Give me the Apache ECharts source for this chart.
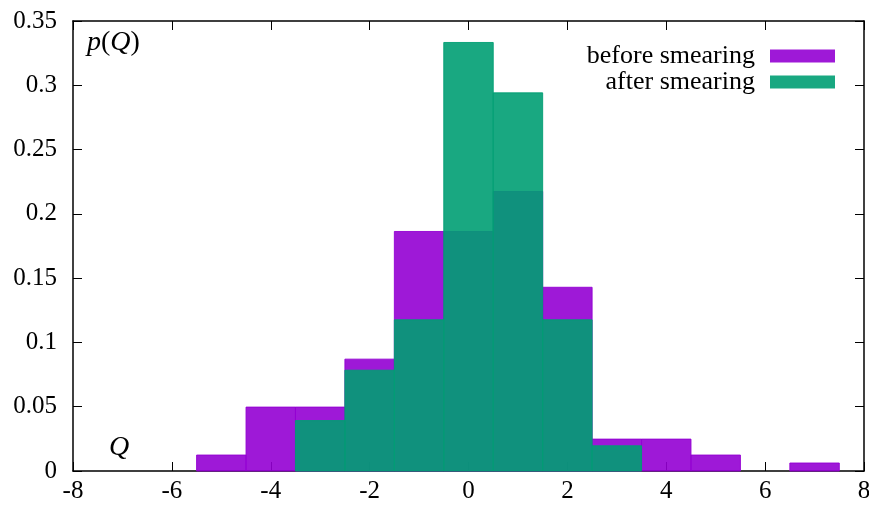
<!DOCTYPE html>
<html>
<head>
<meta charset="utf-8">
<script src="https://cdn.jsdelivr.net/npm/echarts@6/dist/echarts.min.js"></script>
<style>
  html, body { margin: 0; padding: 0; background: #fff; }
  #chart { width: 869px; height: 510px; }
</style>
</head>
<body>
<div id="chart"></div>
<script>
// Histogram of topological charge Q, bins of width 1 centred on integers
const binCenters = [-5, -4, -3, -2, -1, 0, 1, 2, 3, 4, 5, 6, 7];
const beforeSmearing = [0.0124, 0.0497, 0.0497, 0.0870, 0.1863, 0.1863, 0.2174, 0.1429, 0.0248, 0.0248, 0.0124, 0, 0.0062];
const afterSmearing  = [0, 0, 0.0392, 0.0784, 0.1176, 0.3333, 0.2941, 0.1176, 0.0196, 0, 0, 0, 0];
const seriesNames = ['before smearing', 'after smearing'];
const xTicks = { min: -8, max: 8, step: 2 };
const yTicks = { min: 0, max: 0.35, step: 0.05 };

const FONT = '"Liberation Serif", "DejaVu Serif", serif';
const PURPLE = 'rgba(148,0,211,0.9)';
const GREEN = 'rgba(0,158,115,0.9)';

function toPairs(vals) {
  return binCenters.map((c, i) => [c, vals[i]]);
}

function renderBin(params, api) {
  const x = api.value(0);
  const y = api.value(1);
  if (!y) return null;
  const tl = api.coord([x - 0.5, y]);
  const br = api.coord([x + 0.5, 0]);
  const color = api.visual('color');
  return {
    type: 'rect',
    shape: { x: tl[0], y: tl[1], width: br[0] - tl[0], height: br[1] - tl[1] },
    style: { fill: color, stroke: color, lineWidth: 1 }
  };
}

const axisLine = { show: true, onZero: false, lineStyle: { color: '#000', width: 1.5 } };
const tick = { show: true, inside: true, length: 9, lineStyle: { color: '#000', width: 1 } };
const label = { fontFamily: FONT, fontSize: 25, color: '#000' };

const chart = echarts.init(document.getElementById('chart'), null, { renderer: 'canvas' });
chart.setOption({
  animation: false,
  backgroundColor: '#fff',
  grid: { left: 73, right: 5, top: 21, bottom: 39, containLabel: false, outerBoundsMode: 'none' },
  legend: {
    orient: 'vertical',
    right: 29,
    top: 38,
    align: 'right',
    itemWidth: 65,
    itemHeight: 13,
    itemGap: 0,
    icon: 'rect',
    textStyle: { fontFamily: FONT, fontSize: 26, lineHeight: 25, color: '#000', padding: [0, 10, 0, 0] },
    data: seriesNames
  },
  xAxis: [
    {
      type: 'value', position: 'bottom',
      min: xTicks.min, max: xTicks.max, interval: xTicks.step,
      axisLine: axisLine, axisTick: tick,
      axisLabel: Object.assign({ margin: 8 }, label),
      splitLine: { show: false }
    },
    {
      type: 'value', position: 'top',
      min: xTicks.min, max: xTicks.max, interval: xTicks.step,
      axisLine: axisLine, axisTick: tick,
      axisLabel: { show: false },
      splitLine: { show: false }
    }
  ],
  yAxis: [
    {
      type: 'value', position: 'left',
      min: yTicks.min, max: yTicks.max, interval: yTicks.step,
      axisLine: axisLine, axisTick: tick,
      axisLabel: Object.assign({ margin: 16 }, label),
      splitLine: { show: false }
    },
    {
      type: 'value', position: 'right',
      min: yTicks.min, max: yTicks.max, interval: yTicks.step,
      axisLine: axisLine, axisTick: tick,
      axisLabel: { show: false },
      splitLine: { show: false }
    }
  ],
  series: [
    {
      name: seriesNames[0], type: 'custom', renderItem: renderBin,
      xAxisIndex: 0, yAxisIndex: 0,
      itemStyle: { color: PURPLE },
      encode: { x: 0, y: 1 },
      data: toPairs(beforeSmearing)
    },
    {
      name: seriesNames[1], type: 'custom', renderItem: renderBin,
      xAxisIndex: 0, yAxisIndex: 0,
      itemStyle: { color: GREEN },
      encode: { x: 0, y: 1 },
      data: toPairs(afterSmearing)
    }
  ],
  graphic: [
    {
      // axis title: italic symbols, upright parentheses
      type: 'text', left: 87, top: 29,
      style: {
        text: '{i|p}{u|(}{i|Q}{u|)}',
        fontFamily: FONT, fontSize: 28, fill: '#000',
        rich: {
          i: { fontFamily: FONT, fontStyle: 'italic', fontSize: 28, color: '#000' },
          u: { fontFamily: FONT, fontStyle: 'normal', fontSize: 28, color: '#000' }
        }
      }
    },
    {
      type: 'text', left: 109, top: 434,
      style: { text: 'Q', fontFamily: FONT, fontStyle: 'italic', fontSize: 28, fill: '#000' }
    }
  ]
});
</script>
</body>
</html>
